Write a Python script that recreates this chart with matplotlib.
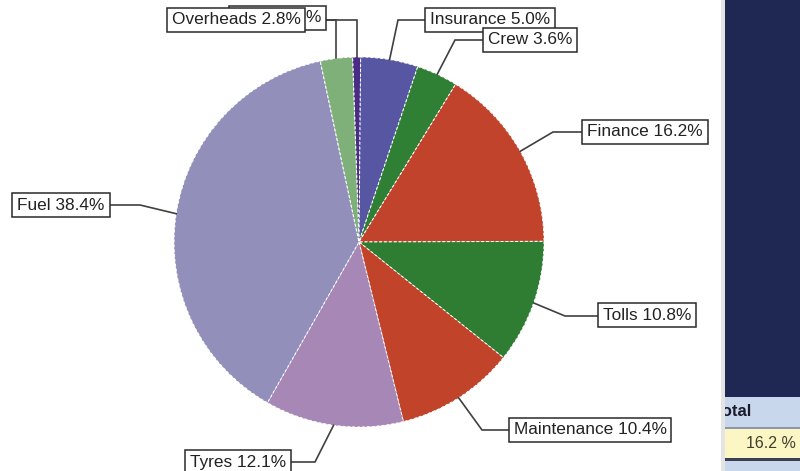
import matplotlib
matplotlib.use("Agg")
import matplotlib.pyplot as plt
from matplotlib.patches import Rectangle
import numpy as np

# cost breakdown (%), clockwise from the top
categories = ["Other", "Insurance", "Crew", "Finance", "Tolls",
              "Maintenance", "Tyres", "Fuel", "Overheads"]
shares = [0.7, 5.0, 3.6, 16.2, 10.8, 10.4, 12.1, 38.4, 2.8]
colours = ["#4a2c86", "#5656a2", "#2f7f35", "#c2432b", "#2e7d33",
           "#c0432a", "#a687b5", "#9290ba", "#80b07a"]

# label box centres and leader elbows (pixel layout, y down)
box_pos = [(270, 18), (490, 20), (530, 40), (645, 132), (647, 315),
           (590, 430), (238, 462), (61, 205), (236, 20)]
elbows = [(357, 20), (398, 20), (455, 40), (553, 132), (565, 316),
          (482, 430), (315, 462), (140, 205), (337, 20)]

table_header = "Total"
table_value = "16.2 %"


def main():
    plt.rcParams['font.family'] = ['Liberation Sans', 'DejaVu Sans']
    fig = plt.figure(figsize=(8, 4.71), dpi=100)
    ax = fig.add_axes([0, 0, 1, 1])

    cx, cy, r = 359, 242, 185
    # y axis is flipped below, so counterclock in data = clockwise on screen
    wedges, _ = ax.pie(shares, colors=colours, startangle=-92, counterclock=True,
                       center=(cx, cy), radius=r,
                       wedgeprops=dict(edgecolor="white", linewidth=0.7,
                                       linestyle=(0, (3, 2))))
    ax.set_xlim(0, 800)
    ax.set_ylim(471, 0)
    ax.set_aspect("equal")
    ax.axis("off")

    for i, w in enumerate(wedges):
        mid = np.deg2rad((w.theta1 + w.theta2) / 2)
        px = cx + r * np.cos(mid)
        py = cy + r * np.sin(mid)
        ex, ey = elbows[i]
        bx, by = box_pos[i]
        if i in (0, 8):
            ex = px
        ax.plot([px, ex, bx], [py, ey, ey], color="#404040", lw=1.2,
                zorder=3, solid_joinstyle="miter")
        # the tiny slice's label sits behind the Overheads box
        ha = "right" if i == 0 else "center"
        tx = 321 if i == 0 else bx
        ax.text(tx, by, f"{categories[i]} {shares[i]:.1f}%", ha=ha, va="center",
                fontsize=12.4, color="#222222", zorder=5 + i,
                bbox=dict(boxstyle="square,pad=0.28", fc="white",
                          ec="#2a2a2a", lw=1.1))

    # bit of the neighbouring panel on the right
    ax.add_patch(Rectangle((725, 0), 75, 397, fc="#1f2753", ec="none", zorder=10))
    ax.add_patch(Rectangle((725, 397), 75, 30, fc="#c9d7ec", ec="none", zorder=10))
    ax.add_patch(Rectangle((725, 427), 75, 2, fc="#8a96aa", ec="none", zorder=10))
    ax.add_patch(Rectangle((725, 429), 75, 29, fc="#fbf6c4", ec="none", zorder=10))
    ax.add_patch(Rectangle((725, 458), 75, 3, fc="#3a3f55", ec="none", zorder=10))
    ax.add_patch(Rectangle((725, 461), 75, 10, fc="#c9d7ec", ec="none", zorder=10))
    ax.text(714, 412, table_header, ha="left", va="center", fontsize=12,
            fontweight="bold", color="#1a1a2e", zorder=11)
    ax.text(796, 444, table_value, ha="right", va="center", fontsize=11.5,
            color="#3e3e2a", zorder=11)
    # panel is cut off at its left edge
    ax.add_patch(Rectangle((690, 380), 31, 91, fc="white", ec="none", zorder=12))
    ax.add_patch(Rectangle((721, 0), 4, 471, fc="#e4e4e4", ec="none", zorder=12))

    fig.savefig("out.png", dpi=100)


if __name__ == "__main__":
    main()
